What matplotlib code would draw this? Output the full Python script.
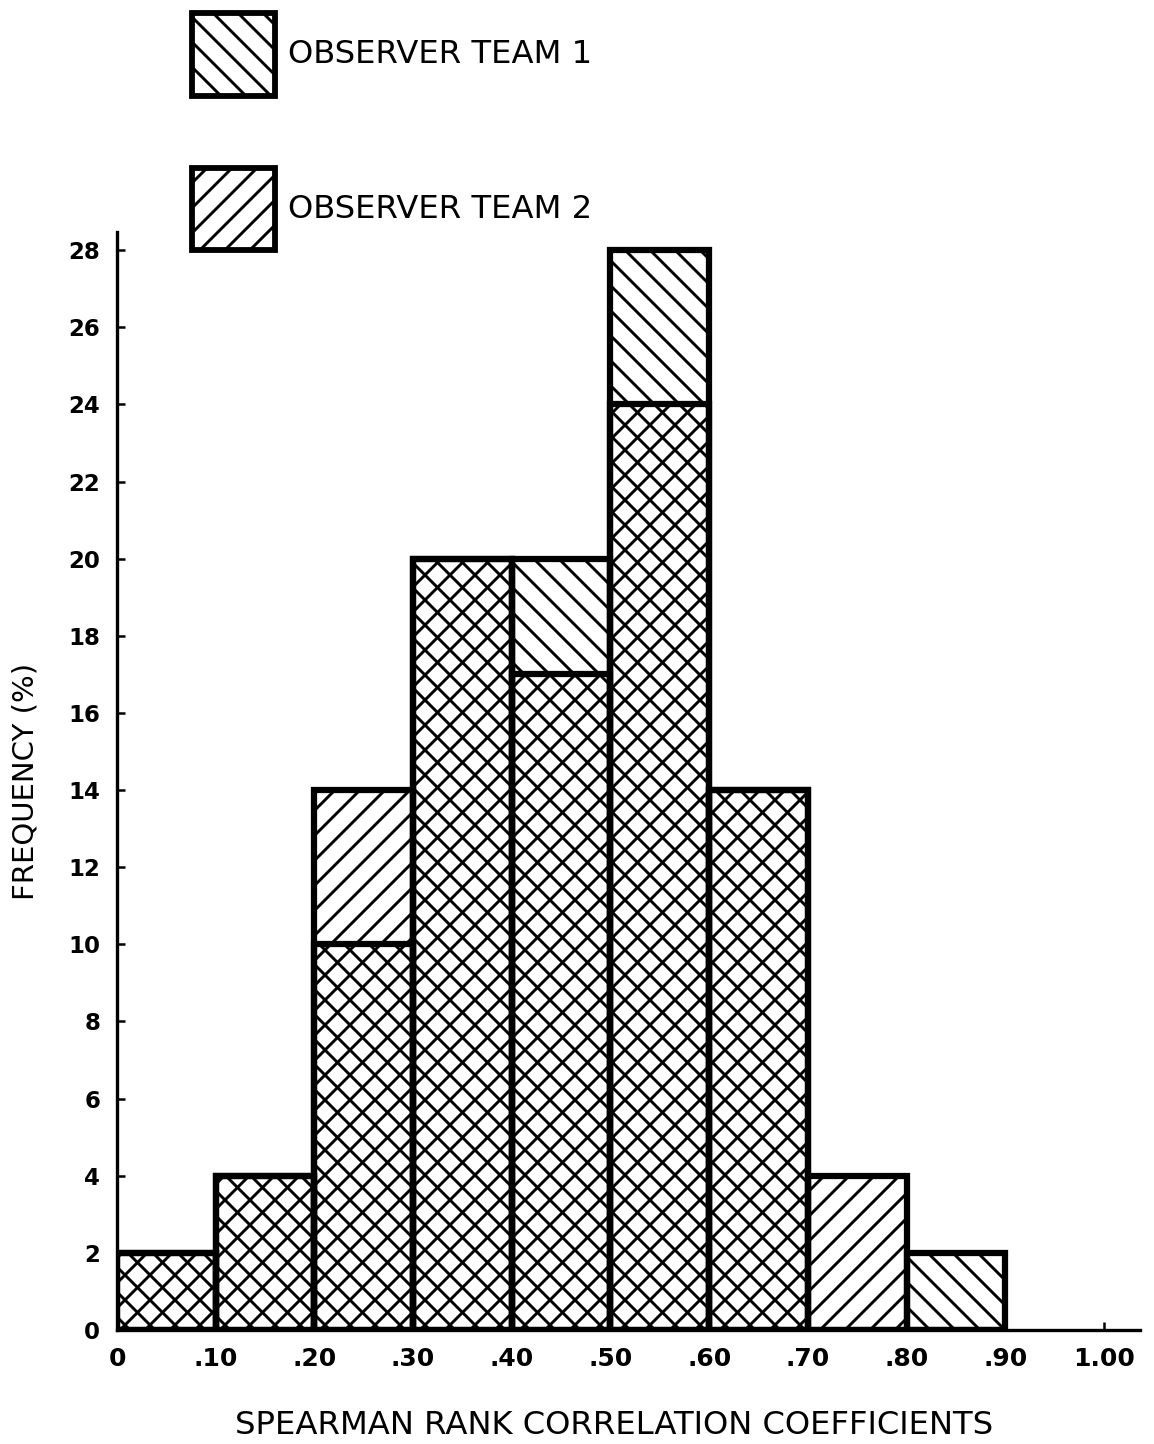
import numpy as np
import matplotlib
matplotlib.use("Agg")
import matplotlib.pyplot as plt
from matplotlib.patches import Rectangle

# bin left edges of Spearman rank correlation coefficients
bin_left = [0.0, 0.1, 0.2, 0.3, 0.4, 0.5, 0.6, 0.7, 0.8]
bin_width = 0.1
team1 = [2, 4, 10, 20, 20, 28, 14, 0, 2]
team2 = [2, 4, 14, 20, 17, 24, 14, 4, 0]

xtick_vals = [0, .1, .2, .3, .4, .5, .6, .7, .8, .9, 1.0]
xtick_labels = ["0", ".10", ".20", ".30", ".40", ".50", ".60", ".70", ".80", ".90", "1.00"]
ytick_vals = list(range(0, 29, 2))

DPI = 150
W, H = 1154, 1444
plt.rcParams["font.family"] = ["DejaVu Sans"]
plt.rcParams["hatch.linewidth"] = 1.4
plt.rcParams["hatch.color"] = "black"

fig = plt.figure(figsize=(W / DPI, H / DPI), dpi=DPI)
fig.patch.set_facecolor("white")
ax = fig.add_axes([117 / W, 1 - 1330 / H, (1140 - 117) / W, (1330 - 232) / H])

ax.bar(bin_left, team1, width=bin_width, align="edge", fill=False,
       hatch="\\\\", edgecolor="black", linewidth=3.0)
ax.bar(bin_left, team2, width=bin_width, align="edge", fill=False,
       hatch="//", edgecolor="black", linewidth=3.0)

ax.set_xlim(0, 1.0365)
ax.set_ylim(0, 28.47)
ax.set_xticks(xtick_vals)
ax.set_xticklabels(xtick_labels)
ax.set_yticks(ytick_vals)
ax.tick_params(direction="in", length=4, width=1.2)
ax.tick_params(axis="y", pad=8, labelsize=11)
ax.tick_params(axis="x", pad=8, labelsize=12)
for lab in ax.get_xticklabels() + ax.get_yticklabels():
    lab.set_fontweight("bold")

for s in ["top", "right"]:
    ax.spines[s].set_visible(False)
for s in ["left", "bottom"]:
    ax.spines[s].set_linewidth(1.6)

fig.text(614 / W, 1 - 1434 / H, "SPEARMAN RANK CORRELATION COEFFICIENTS",
         fontsize=15.5, ha="center", va="baseline")
ax.set_ylabel("FREQUENCY (%)", fontsize=14, labelpad=14)

# legend boxes above the axes
legend_items = [("OBSERVER TEAM 1", "\\\\", 13, 96), ("OBSERVER TEAM 2", "//", 168, 250)]
for label, hatch, top, bottom in legend_items:
    rect = Rectangle((192 / W, 1 - bottom / H), (275 - 192) / W, (bottom - top) / H,
                     transform=fig.transFigure, fill=False, hatch=hatch,
                     edgecolor="black", linewidth=2.8)
    fig.patches.append(rect)
    fig.text(288 / W, 1 - (top + bottom) / 2 / H, label, fontsize=15.5,
             ha="left", va="center")

fig.savefig("out.png", dpi=DPI, facecolor="white")
